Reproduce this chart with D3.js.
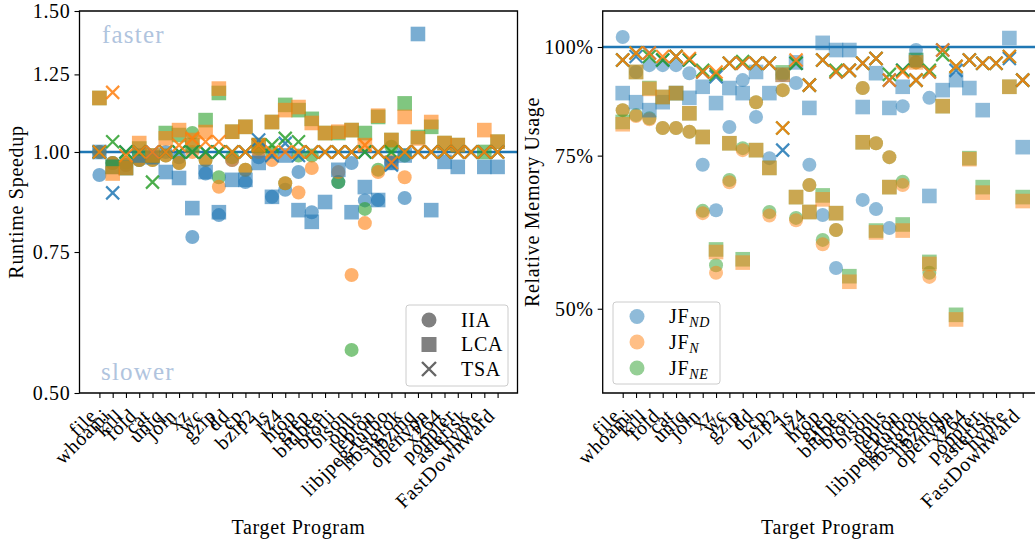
<!DOCTYPE html>
<html><head><meta charset="utf-8">
<script src="https://cdn.jsdelivr.net/npm/d3@7"></script>
<style>
body{margin:0;background:#fff;}
svg text{font-family:"Liberation Serif","Times New Roman",serif;fill:#000;}
</style></head>
<body><svg id="c" width="1035" height="545"></svg>
<script>
const categories = ["file","whoami","kill","fold","cat","uniq","join","xz","wc","gzip","dd","cp","bzip2","ls","lz4","htop","grep","bitlbee","brotli","bison","opus","lepton","libjpeg-turbo","libsigrok","libzmq","openvpn","x264","poppler","asterisk","hypre","FastDownward"];
const speedTicks = [0.5, 0.75, 1.0, 1.25, 1.5];
const speedTickLabels = ["0.50","0.75","1.00","1.25","1.50"];
const memTicks = [0.5, 0.75, 1.0];
const memTickLabels = ["50%","75%","100%"];
const seriesNames = ["JF_ND","JF_N","JF_NE"];
const algoNames = ["IIA","LCA","TSA"];

// Runtime speedup (left)
const speedIIA_ND = [.936,.969,.963,.977,.985,1.0,.985,.783,.94,.834,.977,.917,.985,.879,.897,.944,.841,null,.917,.969,.87,.871,.969,.876,null,null,null,null,null,null,null];
const speedIIA_N  = [1.0,.969,.963,.977,.977,.99,.969,1.0,.977,.905,.977,.95,1.0,.977,.914,.89,.955,null,.944,.702,.815,.944,.975,.93,null,null,null,null,null,null,null];
const speedIIA_NE = [1.0,.969,.97,.977,.977,.99,.969,1.056,.977,.93,.985,.95,1.01,1.0,.914,.99,.99,null,.917,.566,.849,.95,1.015,.99,null,null,null,null,null,null,null];
const speedLCA_ND = [1.0,.958,.955,.99,.985,.944,.928,.851,.944,.841,.923,.923,.969,.879,.99,.846,.818,.866,.95,.841,.904,.871,.969,.99,1.404,.846,.972,.958,null,.958,.958];
const speedLCA_N  = [1.168,.94,.955,1.026,.99,1.04,1.065,1.035,1.059,1.2,1.06,1.075,1.02,1.09,1.128,1.138,1.087,1.056,1.06,1.065,1.02,1.11,1.035,1.106,1.04,1.09,1.026,1.02,null,1.065,1.03];
const speedLCA_NE = [1.168,.958,.955,1.01,.99,1.056,1.05,1.02,1.096,1.185,1.06,1.075,1.02,1.09,1.145,1.128,1.1,1.056,1.056,1.065,1.056,1.106,1.035,1.15,1.044,1.075,1.026,1.02,null,1.0,1.03];
const speedTSA_ND = [1,.889,1,1,1,1,1,1,1,1,1,1,1.035,.99,1.025,.99,1,1,1,1,1,1,.963,1,1,1,1,1,1,1,1];
const speedTSA_N  = [1,1.187,.99,1,1,1,1.02,1.04,1.03,1.03,1,1,1.02,1,1,1,1,1,1,1,1.02,1,.97,1,1,1,1,1,1,1,1];
const speedTSA_NE = [1,1.03,1,1,.917,1,1,1,1,1,1,1,1.02,1.02,1.04,1.03,1,1,1,1,1,1,1,1,1,1,1,1,1,1,1];

// Relative memory usage (right)
const memIIA_ND = [1.027,.936,.953,.953,.953,.933,.732,.649,.809,.916,.831,.745,.929,.909,.732,.641,.557,null,.667,.651,.619,.855,.992,.874,null,null,null,null,null,null,null];
const memIIA_N  = [.846,.833,.826,.807,.807,.799,.644,.55,.699,.761,.864,.64,.892,.632,.694,.593,.616,null,.897,.775,.747,.694,.96,.544,null,null,null,null,null,null,null];
const memIIA_NE = [.846,.835,.828,.807,.807,.799,.648,.561,.703,.765,.864,.646,.892,.636,.694,.6,.616,null,.897,.775,.747,.7,.96,.55,null,null,null,null,null,null,null];
const memLCA_ND = [.885,.864,.846,.864,.885,.874,.9,.862,.897,.885,.936,.885,.929,.96,.851,1.011,.992,.992,.853,.933,.851,.9,.966,.674,.892,.916,.897,.846,null,1.024,.767];
const memLCA_N  = [.815,.936,.895,.876,.885,.839,.788,.581,.775,.565,.761,.726,.929,.672,.646,.668,.644,.537,.777,.612,.69,.615,.96,.563,.855,.486,.743,.68,null,.9,.665];
const memLCA_NE = [.82,.936,.897,.876,.885,.839,.788,.585,.775,.57,.761,.726,.935,.672,.646,.675,.644,.545,.777,.615,.69,.625,.966,.566,.855,.492,.745,.69,null,.9,.672];
const memTSA_ND = [.966,.975,.984,.966,.975,.966,.936,.924,.958,.958,.958,.958,.761,.958,.904,.966,.936,.94,.958,.97,.916,.94,.916,.936,.992,.94,.966,.958,.958,.97,.916];
const memTSA_N  = [.966,.984,.984,.975,.975,.97,.936,.936,.958,.958,.958,.958,.807,.966,.904,.966,.936,.94,.958,.97,.916,.936,.916,.936,.992,.95,.966,.958,.958,.975,.916];
const memTSA_NE = [.966,.984,.975,.966,.975,.966,.94,.93,.958,.962,.958,.958,.807,.958,.904,.966,.94,.94,.958,.97,.93,.94,.916,.94,.98,.95,.966,.958,.958,.975,.916];

const colors = {ND:"#1f77b4", N:"#ff7f0e", NE:"#2ca02c"};
const svg = d3.select("#c");
const FS = "20px", LS = "0.7px";

function panel(opt){
  const g = svg.append("g");
  const x = d3.scaleLinear().domain([-1.5, 31.5]).range([opt.x0, opt.x1]);
  const y = d3.scaleLog().domain(opt.ydom).range([393, 11]);
  g.append("line").attr("x1", opt.x0).attr("x2", Math.min(opt.x1, 1035)).attr("y1", y(1)).attr("y2", y(1))
    .attr("stroke", "#1f77b4").attr("stroke-width", 2.4);
  const drawOrder = [["ND",0],["NE",2],["N",1]];
  const mk = g.append("g");
  drawOrder.forEach(([k,si])=>{
    const arr = opt.data[0][si];
    mk.selectAll(null).data(arr.map((v,i)=>({v,i})).filter(d=>d.v!=null)).enter().append("circle")
      .attr("cx", d=>x(d.i)).attr("cy", d=>y(d.v)).attr("r", 7)
      .attr("fill", colors[k]).attr("fill-opacity", opt.alpha);
  });
  drawOrder.forEach(([k,si])=>{
    const arr = opt.data[1][si];
    mk.selectAll(null).data(arr.map((v,i)=>({v,i})).filter(d=>d.v!=null)).enter().append("rect")
      .attr("x", d=>x(d.i)-7.3).attr("y", d=>y(d.v)-7.3).attr("width", 14.6).attr("height", 14.6)
      .attr("fill", colors[k]).attr("fill-opacity", opt.alpha);
  });
  drawOrder.forEach(([k,si])=>{
    const arr = opt.data[2][si];
    mk.selectAll(null).data(arr.map((v,i)=>({v,i})).filter(d=>d.v!=null)).enter().append("path")
      .attr("transform", d=>`translate(${x(d.i)},${y(d.v)})`)
      .attr("d", "M-6.5,-6.5L6.5,6.5M-6.5,6.5L6.5,-6.5")
      .attr("stroke", colors[k]).attr("stroke-width", 2.2).attr("stroke-opacity", 0.85).attr("fill","none");
  });
  g.append("path").attr("d", `M${opt.x0},393V11H${opt.x1}V393Z`).attr("fill","none").attr("stroke","#000").attr("stroke-width",1.3);
  const xa = g.append("g").attr("transform","translate(0,393)")
    .call(d3.axisBottom(x).tickValues(d3.range(categories.length)).tickSize(5).tickSizeOuter(0).tickFormat(i=>categories[i]));
  xa.select(".domain").remove();
  xa.selectAll(".tick line").attr("stroke","#000").attr("stroke-width",1.1);
  xa.selectAll(".tick text").attr("text-anchor","end").attr("dy",null).attr("y",null)
    .attr("transform","translate(-2,24) rotate(-45)")
    .style("font-size",FS).style("letter-spacing",LS).style("font-family",'"Liberation Serif",serif');
  const ya = g.append("g").attr("transform",`translate(${opt.x0},0)`)
    .call(d3.axisLeft(y).tickValues(opt.ticks).tickSize(5).tickSizeOuter(0).tickFormat((d,i)=>opt.tickLabels[i]));
  ya.select(".domain").remove();
  ya.selectAll(".tick line").attr("stroke","#000").attr("stroke-width",1.1);
  ya.selectAll(".tick text").attr("x",-9).style("font-size",FS).style("letter-spacing",LS).style("font-family",'"Liberation Serif",serif');
  g.append("text").attr("x",opt.xlx).attr("y",534).attr("text-anchor","middle")
    .style("font-size",FS).style("letter-spacing",LS).text("Target Program");
  g.append("text").attr("transform",`translate(${opt.ylx},202) rotate(-90)`).attr("text-anchor","middle")
    .style("font-size",FS).style("letter-spacing",LS).text(opt.ylabel);
  return {g,x,y};
}

const L = panel({x0:79.5, x1:517.5, ydom:[0.5,1.5], ticks:speedTicks, tickLabels:speedTickLabels, alpha:0.6,
  ylx:23, xlx:298.5, ylabel:"Runtime Speedup",
  data:[[speedIIA_ND,speedIIA_N,speedIIA_NE],[speedLCA_ND,speedLCA_N,speedLCA_NE],[speedTSA_ND,speedTSA_N,speedTSA_NE]]});
const R = panel({x0:602.7, x1:1042.7, ydom:[0.4,1.1], ticks:memTicks, tickLabels:memTickLabels, alpha:0.5,
  ylx:539, xlx:828, ylabel:"Relative Memory Usage",
  data:[[memIIA_ND,memIIA_N,memIIA_NE],[memLCA_ND,memLCA_N,memLCA_NE],[memTSA_ND,memTSA_N,memTSA_NE]]});

L.g.append("text").attr("x",102).attr("y",43).style("font-size","25px").style("letter-spacing","1.2px").style("fill","#b0c4de").text("faster");
L.g.append("text").attr("x",101).attr("y",380).style("font-size","25px").style("letter-spacing","1.2px").style("fill","#b0c4de").text("slower");

const lg = svg.append("g");
lg.append("rect").attr("x",406).attr("y",305).attr("width",102).attr("height",81).attr("rx",3)
  .attr("fill","#fff").attr("fill-opacity",0.8).attr("stroke","#ccc").attr("stroke-width",1);
const ly = [320, 344.5, 369];
lg.append("circle").attr("cx",429).attr("cy",ly[0]).attr("r",7.5).attr("fill","#808080");
lg.append("rect").attr("x",421.5).attr("y",ly[1]-7.5).attr("width",15).attr("height",15).attr("fill","#808080");
lg.append("path").attr("transform",`translate(429,${ly[2]})`).attr("d","M-7,-7L7,7M-7,7L7,-7").attr("stroke","#666").attr("stroke-width",2.4);
algoNames.forEach((n,i)=>lg.append("text").attr("x",461).attr("y",ly[i]+6.5).style("font-size",FS).style("letter-spacing",LS).text(n));

const rg = svg.append("g");
rg.append("rect").attr("x",613).attr("y",302).attr("width",107).attr("height",82).attr("rx",3)
  .attr("fill","#fff").attr("fill-opacity",0.8).attr("stroke","#ccc").attr("stroke-width",1);
const ry = [316.5, 342, 368];
const subs = ["ND","N","NE"];
["ND","N","NE"].forEach((k,i)=>{
  rg.append("circle").attr("cx",637).attr("cy",ry[i]).attr("r",7.5).attr("fill",colors[k]).attr("fill-opacity",0.5);
  const t = rg.append("text").attr("x",669).attr("y",ry[i]+6.5).style("font-size",FS).style("letter-spacing",LS);
  t.append("tspan").text("JF");
  t.append("tspan").attr("dy",4).style("font-size","14px").style("font-style","italic").text(subs[i]);
});
</script></body></html>
